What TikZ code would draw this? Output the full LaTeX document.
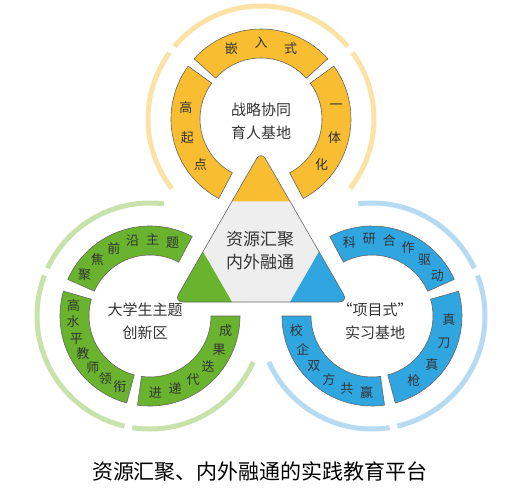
\documentclass[tikz,border=0pt]{standalone}
\usepackage{fontspec}
\setmainfont{Noto Sans CJK SC}
\usetikzlibrary{calc}

\definecolor{hubyellow}{HTML}{F8BD30}
\definecolor{hubgreen}{HTML}{69B32E}
\definecolor{hubblue}{HTML}{2FA6DF}
\definecolor{paleyellow}{HTML}{FCE2A6}
\definecolor{palegreen}{HTML}{C8E2AC}
\definecolor{paleblue}{HTML}{B6DAF2}
\definecolor{hubgray}{HTML}{EEEEEE}
\definecolor{inkgray}{HTML}{333333}

\tikzset{
  segline/.style={draw=black!60, line width=0.6pt},
  segtext/.style={text=inkgray, inner sep=0pt, font=\fontsize{13}{15}\selectfont},
  halo/.style={line width=5pt},
  hubtext/.style={text=inkgray, align=center, inner sep=0pt, font=\fontsize{15}{23}\selectfont},
}

% annular piece: centre, from, to, colour
\newcommand{\ringseg}[4]{%
  \filldraw[segline, fill=#4] ($(#1)+(#2:61)$) arc[start angle=#2, end angle=#3, radius=61]
    -- ($(#1)+(#3:90)$) arc[start angle=#3, end angle=#2, radius=90] -- cycle;}
% thin outer arc: centre, from, to, colour
\newcommand{\haloarc}[4]{%
  \draw[halo, #4] ($(#1)+(#2:113)$) arc[start angle=#2, end angle=#3, radius=113];}

\begin{document}
\begin{tikzpicture}[x=1pt, y=1pt]
  \useasboundingbox (0,-498) rectangle (520,0);
  \coordinate (ctop) at (261,-119);
  \coordinate (cleft) at (150,-316);
  \coordinate (cright) at (372,-316);

  % outer pale rings
  \haloarc{ctop}{40}{140}{paleyellow}
  \haloarc{ctop}{144}{218}{paleyellow}
  \haloarc{ctop}{-38}{36}{paleyellow}
  \haloarc{cleft}{83}{155}{palegreen}
  \haloarc{cleft}{159}{257}{palegreen}
  \haloarc{cleft}{261}{336}{palegreen}
  \haloarc{cright}{25}{97}{paleblue}
  \haloarc{cright}{-77}{21}{paleblue}
  \haloarc{cright}{204}{279}{paleblue}

  % coloured ring pieces
  \ringseg{ctop}{42}{138}{hubyellow}
  \ringseg{ctop}{144}{242}{hubyellow}
  \ringseg{ctop}{-62}{36}{hubyellow}
  \ringseg{cleft}{62}{156}{hubgreen}
  \ringseg{cleft}{164}{255}{hubgreen}
  \ringseg{cleft}{262}{360}{hubgreen}
  \ringseg{cright}{24}{118}{hubblue}
  \ringseg{cright}{-75}{16}{hubblue}
  \ringseg{cright}{180}{278}{hubblue}

  % centre triangle
  \coordinate (apex) at (261,-151);
  \coordinate (tl) at (174,-302);
  \coordinate (tr) at (348,-302);
  \begin{scope}
    \clip[rounded corners=9pt] (apex) -- (tl) -- (tr) -- cycle;
    \fill[hubgray] (apex) -- (tl) -- (tr) -- cycle;
    \fill[hubyellow] (apex) -- ($(apex)!1/3!(tl)$) -- ($(apex)!1/3!(tr)$) -- cycle;
    \fill[hubgreen] (tl) -- ($(tl)!1/3!(apex)$) -- ($(tl)!1/3!(tr)$) -- cycle;
    \fill[hubblue] (tr) -- ($(tr)!1/3!(apex)$) -- ($(tr)!1/3!(tl)$) -- cycle;
  \end{scope}
  \draw[segline, rounded corners=9pt] (apex) -- (tl) -- (tr) -- cycle;

  % ring texts
  \foreach \ch/\ang [count=\i] in {嵌/113, 入/90, 式/67, 高/171, 起/194, 点/217, 一/9, 体/-14, 化/-37}
    \node[segtext] (tseg\i) at ($(ctop)+(\ang:76)$) {\ch};
  \foreach \ch/\ang [count=\i] in {聚/148, 焦/133, 前/118, 沿/103, 主/88, 题/73,
      高/172, 水/184.5, 平/197, 教/209.5, 师/222, 领/234.5, 衔/247,
      成/-11, 果/-26, 迭/-41, 代/-56, 递/-71, 进/-86}
    \node[segtext] (lseg\i) at ($(cleft)+(\ang:77)$) {\ch};
  \foreach \ch/\ang [count=\i] in {科/107, 研/92, 合/77, 作/62, 驱/47, 动/32,
      真/-3, 刀/-21, 真/-39, 枪/-57,
      校/191, 企/206, 双/221, 方/236, 共/251, 赢/266}
    \node[segtext] (rseg\i) at ($(cright)+(\ang:77)$) {\ch};

  % centre texts
  \node[hubtext] (toplabel) at (261,-121) {战略协同\\育人基地};
  \node[hubtext] (leftlabel) at (145,-321) {大学生主题\\创新区};
  \node[hubtext] (rightlabel) at (375,-321) {“项目式”\\实习基地};
  \node[hubtext, font=\fontsize{17}{23}\selectfont] (hublabel) at (260,-251) {资源汇聚\\内外融通};

  \node[text=black, font=\fontsize{21}{25}\selectfont] (title) at (260,-472) {资源汇聚、内外融通的实践教育平台};
\end{tikzpicture}
\end{document}
